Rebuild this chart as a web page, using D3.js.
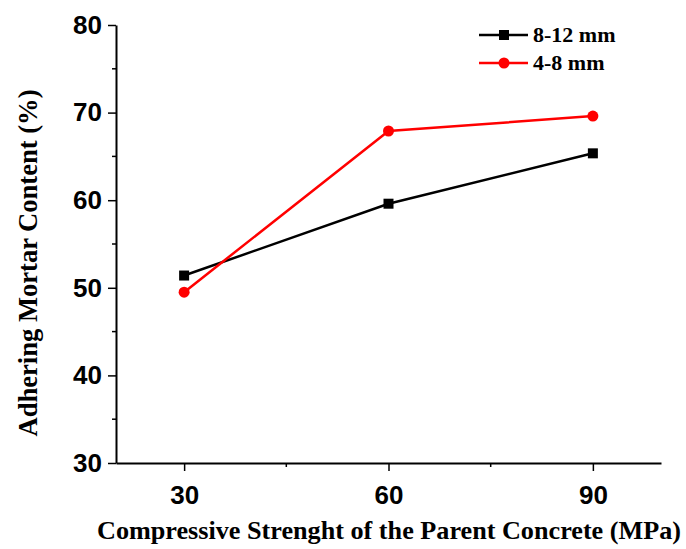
<!DOCTYPE html>
<html>
<head>
<meta charset="utf-8">
<script src="https://cdn.jsdelivr.net/npm/d3@7"></script>
<style>
  html, body { margin: 0; padding: 0; background: #fff; }
  svg { display: block; }
</style>
</head>
<body>
<svg id="chart" width="686" height="549"></svg>
<script>
// Parent concrete strength (MPa) and adhering mortar content (%) per aggregate size
const strengths = [30, 60, 90];
const coarseMortar = [51.4, 59.6, 65.35];   // 8-12 mm
const fineMortar = [49.5, 67.9, 69.6];      // 4-8 mm
const seriesNames = ["8-12 mm", "4-8 mm"];
const seriesColors = ["#000000", "#ff0000"];
const xTicks = [30, 60, 90];
const xMinorTicks = [45, 75];
const yTicks = [30, 40, 50, 60, 70, 80];
const yMinorTicks = [35, 45, 55, 65, 75];
const xTitle = "Compressive Strenght of the Parent Concrete (MPa)";
const yTitle = "Adhering Mortar Content (%)";

const svg = d3.select("#chart");
const plotLeft = 116, plotRight = 661, plotTop = 25, plotBottom = 463;

const x = d3.scaleLinear().domain([20, 100]).range([plotLeft, plotRight]);
const y = d3.scaleLinear().domain([30, 80]).range([plotBottom, plotTop]);

const tickFont = "'Liberation Sans', Arial, sans-serif";
const titleFont = "'Liberation Serif', 'Times New Roman', serif";

// Axes with major ticks
const xAxis = svg.append("g").attr("transform", `translate(0,${plotBottom})`)
  .call(d3.axisBottom(x).tickValues(xTicks).tickSize(8).tickSizeOuter(0).tickPadding(14));
const yAxis = svg.append("g").attr("transform", `translate(${plotLeft},0)`)
  .call(d3.axisLeft(y).tickValues(yTicks).tickSize(8).tickSizeOuter(0).tickPadding(6));

// Minor ticks
xAxis.selectAll(".minor").data(xMinorTicks).enter().append("line")
  .attr("x1", d => x(d)).attr("x2", d => x(d)).attr("y1", 0).attr("y2", 4)
  .attr("stroke", "#000").attr("stroke-width", 1.5);
yAxis.selectAll(".minor").data(yMinorTicks).enter().append("line")
  .attr("y1", d => y(d)).attr("y2", d => y(d)).attr("x1", 0).attr("x2", -4)
  .attr("stroke", "#000").attr("stroke-width", 1.5);

[xAxis, yAxis].forEach(g => {
  g.select(".domain").attr("stroke", "#000").attr("stroke-width", 2);
  g.selectAll(".tick line").attr("stroke", "#000").attr("stroke-width", 1.5);
  g.selectAll(".tick text")
    .attr("font-family", tickFont).attr("font-weight", "bold")
    .attr("font-size", 26).attr("fill", "#000");
});
xAxis.selectAll(".tick text").attr("dy", "0.72em");

// Series lines and markers
const series = [coarseMortar, fineMortar];
const line = d3.line().x((d, i) => x(strengths[i])).y(d => y(d));

series.forEach((vals, s) => {
  svg.append("path").datum(vals)
    .attr("d", line).attr("fill", "none")
    .attr("stroke", seriesColors[s]).attr("stroke-width", 2.5);
});

// 8-12 mm: squares
svg.selectAll(".sq").data(coarseMortar).enter().append("rect")
  .attr("x", (d, i) => x(strengths[i]) - 5).attr("y", d => y(d) - 5)
  .attr("width", 10).attr("height", 10).attr("fill", seriesColors[0]);
// 4-8 mm: circles
svg.selectAll(".ci").data(fineMortar).enter().append("circle")
  .attr("cx", (d, i) => x(strengths[i])).attr("cy", d => y(d))
  .attr("r", 5.5).attr("fill", seriesColors[1]);

// Legend
const legendY = [35, 63];
seriesNames.forEach((name, s) => {
  const g = svg.append("g").attr("transform", `translate(479,${legendY[s]})`);
  g.append("line").attr("x1", 0).attr("x2", 49).attr("y1", 0).attr("y2", 0)
    .attr("stroke", seriesColors[s]).attr("stroke-width", 2.5);
  if (s === 0) {
    g.append("rect").attr("x", 20).attr("y", -5).attr("width", 10).attr("height", 10)
      .attr("fill", seriesColors[s]);
  } else {
    g.append("circle").attr("cx", 25).attr("cy", 0).attr("r", 5.5).attr("fill", seriesColors[s]);
  }
  g.append("text").attr("x", 54).attr("y", 0).attr("dy", "0.33em")
    .attr("font-family", titleFont).attr("font-weight", "bold")
    .attr("font-size", 22).attr("fill", "#000").text(name);
});

// Axis titles
svg.append("text").attr("x", 389).attr("y", 539)
  .attr("text-anchor", "middle")
  .attr("font-family", titleFont).attr("font-weight", "bold").attr("font-size", 26)
  .attr("textLength", 584).attr("lengthAdjust", "spacingAndGlyphs")
  .attr("fill", "#000").text(xTitle);

svg.append("text").attr("transform", "translate(37,263) rotate(-90)")
  .attr("text-anchor", "middle")
  .attr("font-family", titleFont).attr("font-weight", "bold").attr("font-size", 27)
  .attr("textLength", 347).attr("lengthAdjust", "spacingAndGlyphs")
  .attr("fill", "#000").text(yTitle);
</script>
</body>
</html>
